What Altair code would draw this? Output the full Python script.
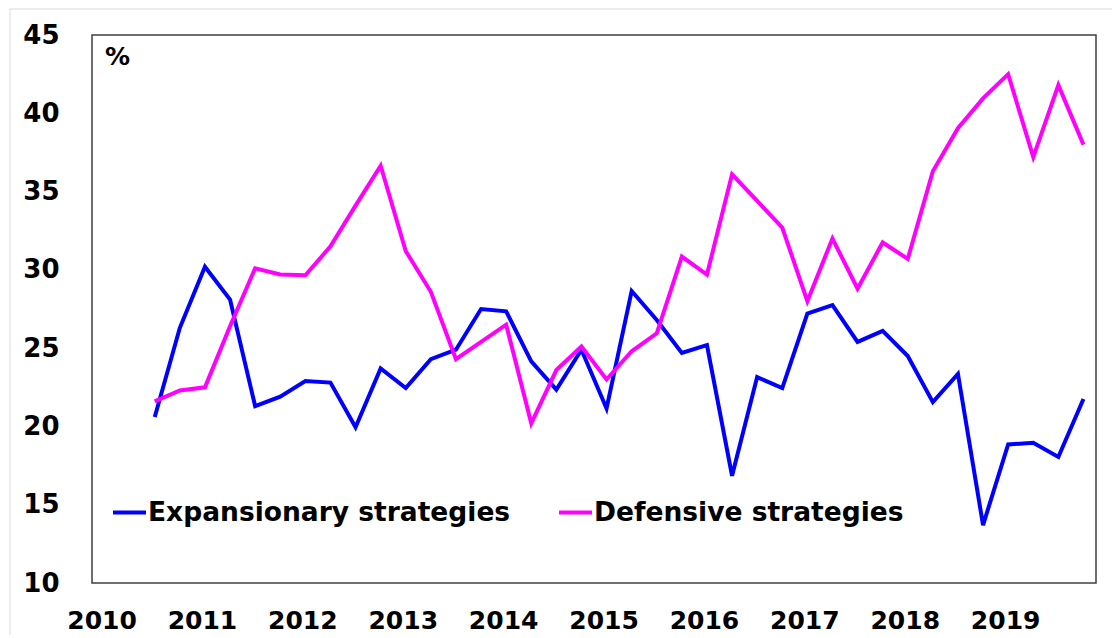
import altair as alt
import pandas as pd

quarters = [
    "2010Q3", "2010Q4",
    "2011Q1", "2011Q2", "2011Q3", "2011Q4",
    "2012Q1", "2012Q2", "2012Q3", "2012Q4",
    "2013Q1", "2013Q2", "2013Q3", "2013Q4",
    "2014Q1", "2014Q2", "2014Q3", "2014Q4",
    "2015Q1", "2015Q2", "2015Q3", "2015Q4",
    "2016Q1", "2016Q2", "2016Q3", "2016Q4",
    "2017Q1", "2017Q2", "2017Q3", "2017Q4",
    "2018Q1", "2018Q2", "2018Q3", "2018Q4",
    "2019Q1", "2019Q2", "2019Q3", "2019Q4",
]
expansionary = [
    20.6, 26.3,
    30.2, 28.1, 21.3, 21.9,
    22.9, 22.8, 19.95, 23.7,
    22.45, 24.3, 24.9, 27.5,
    27.35, 24.15, 22.35, 24.9,
    21.15, 28.65, 26.8, 24.7,
    25.2, 16.85, 23.15, 22.45,
    27.2, 27.75, 25.4, 26.1,
    24.5, 21.55, 23.35, 13.7,
    18.85, 18.95, 18.05, 21.75,
]
defensive = [
    21.6, 22.3,
    22.5, 26.4, 30.1, 29.7,
    29.65, 31.5, 34.1, 36.65,
    31.2, 28.6, 24.3, 25.4,
    26.5, 20.2, 23.6, 25.1,
    23.0, 24.8, 25.95, 30.85,
    29.7, 36.1, 34.4, 32.7,
    28.0, 32.0, 28.8, 31.75,
    30.7, 36.3, 39.05, 40.95,
    42.5, 37.2, 41.8, 38.0,
]
series_names = ["Expansionary strategies", "Defensive strategies"]
series_colors = ["#0000FF", "#FF00FF"]
y_ticks = [10, 15, 20, 25, 30, 35, 40, 45]
x_ticks = [2010, 2011, 2012, 2013, 2014, 2015, 2016, 2017, 2018, 2019]

rows = []
for q, e, d in zip(quarters, expansionary, defensive):
    t = int(q[:4]) + (int(q[-1]) - 1) / 4
    rows.append({"t": t, "series": series_names[0], "value": e})
    rows.append({"t": t, "series": series_names[1], "value": d})
df = pd.DataFrame(rows)

FONT = "DejaVu Sans"

lines = alt.Chart(df).mark_line(strokeWidth=4, strokeJoin="miter").encode(
    x=alt.X(
        "t:Q",
        scale=alt.Scale(domain=[2009.875, 2019.875], nice=False, zero=False),
        axis=alt.Axis(values=x_ticks, format="d", title=None,
                      labelPadding=25, labelOffset=-3, labelFontSize=25),
    ),
    y=alt.Y(
        "value:Q",
        scale=alt.Scale(domain=[10, 45], nice=False, zero=False),
        axis=alt.Axis(values=y_ticks, title=None, labelPadding=33),
    ),
    color=alt.Color(
        "series:N",
        scale=alt.Scale(domain=series_names, range=series_colors),
        legend=alt.Legend(
            orient="none",
            legendX=19,
            legendY=459,
            direction="horizontal",
            title=None,
            symbolType="stroke",
            symbolSize=1089,
            symbolStrokeWidth=4,
            labelFont=FONT,
            labelFontSize=26.5,
            labelFontWeight="bold",
            labelColor="#000000",
            labelLimit=0,
            labelOffset=0,
            columnPadding=40,
        ),
    ),
    detail="series:N",
)

pct = alt.Chart(pd.DataFrame({"k": [0]})).mark_text(
    text="%", align="left", baseline="middle", font=FONT, fontSize=25,
    fontWeight="bold", color="#000000",
).encode(x=alt.value(13), y=alt.value(22))

outer_top = alt.Chart(pd.DataFrame({"k": [0]})).mark_rule(
    color="#d9d9d9", strokeWidth=1
).encode(x=alt.value(-82), x2=alt.value(1030), y=alt.value(-26))

outer_left = alt.Chart(pd.DataFrame({"k": [0]})).mark_rule(
    color="#d9d9d9", strokeWidth=1
).encode(x=alt.value(-82), y=alt.value(-26), y2=alt.value(620))

chart = alt.layer(outer_top, outer_left, lines, pct).properties(
    width=1004,
    height=548,
    autosize="none",
    padding={"left": 84, "top": 27, "right": 16, "bottom": 52},
).configure_view(
    stroke="#3f3f3f", strokeWidth=1.5
).configure_axis(
    domain=False,
    ticks=False,
    grid=False,
    labelFont=FONT,
    labelFontSize=26,
    labelFontWeight="bold",
    labelColor="#000000",
)

chart.save("out.html", embed_options={"renderer": "svg", "actions": False})
